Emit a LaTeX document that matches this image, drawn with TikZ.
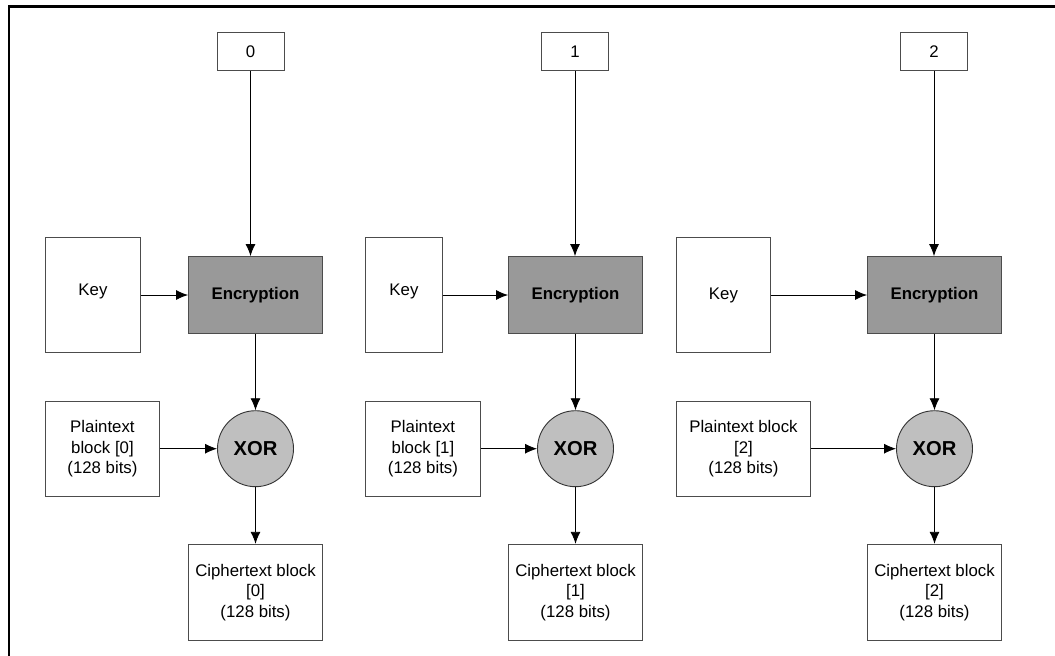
\documentclass[tikz,border=0pt]{standalone}
\usepackage{fontspec}
\setmainfont{Liberation Sans}
\usetikzlibrary{arrows.meta}
\begin{document}
\begin{tikzpicture}[>={Latex[length=12pt,width=10pt]}, x=1pt, y=-1pt,
    box/.style={draw=black!70, line width=0.9pt, fill=white, align=center, inner sep=0pt,
        font=\fontsize{16.8}{20.5}\selectfont},
    encbox/.style={box, fill=black!40, minimum width=134, minimum height=77,
        font=\fontsize{16.8}{20.5}\selectfont\bfseries},
    xorcirc/.style={circle, draw=black!80, line width=0.9pt, fill=black!25, minimum size=76,
        inner sep=0pt, font=\fontsize{20.2}{24}\selectfont\bfseries},
    link/.style={->, line width=0.9pt}]

    \useasboundingbox (0,0) rectangle (1055,656);

    % cadre
    \draw[line width=2.5pt] (9,656) -- (9,6.5) -- (1055,6.5);

    % les trois etages
    \foreach \i/\cx/\ex/\kl/\kw/\kr/\pw/\ptxt in {
        0/250.5/255.5/45/95/10/114/{Plaintext\\block [0]\\(128 bits)},
        1/575/575.5/365/77/11/115/{Plaintext\\block [1]\\(128 bits)},
        2/934/934.5/676/94/0/134/{Plaintext block\\{}[2]\\(128 bits)}} {

        \node[box, minimum width=67, minimum height=38] (cnt\i) at (\cx,51.5) {\i};
        \node[encbox] (enc\i) at (\ex,295) {Encryption};
        \node[box, anchor=west, minimum width=\kw, minimum height=115.5] (key\i) at (\kl,295)
            {\raisebox{\kr pt}{Key}};
        \node[xorcirc] (xor\i) at (\ex,448.7) {XOR};
        \node[box, anchor=west, minimum width=\pw, minimum height=95.5] (pt\i) at (\kl,448.7) {\ptxt};
        \node[box, minimum width=134, minimum height=96.5] (ct\i) at (\ex,592.5)
            {Ciphertext block\\{}[\i]\\(128 bits)};

        \draw[link] (cnt\i) -- (cnt\i |- enc\i.north);
        \draw[link] (key\i) -- (enc\i);
        \draw[link] (enc\i) -- (xor\i);
        \draw[link] (pt\i) -- (xor\i);
        \draw[link] (xor\i) -- (ct\i);
    }

\end{tikzpicture}
\end{document}
